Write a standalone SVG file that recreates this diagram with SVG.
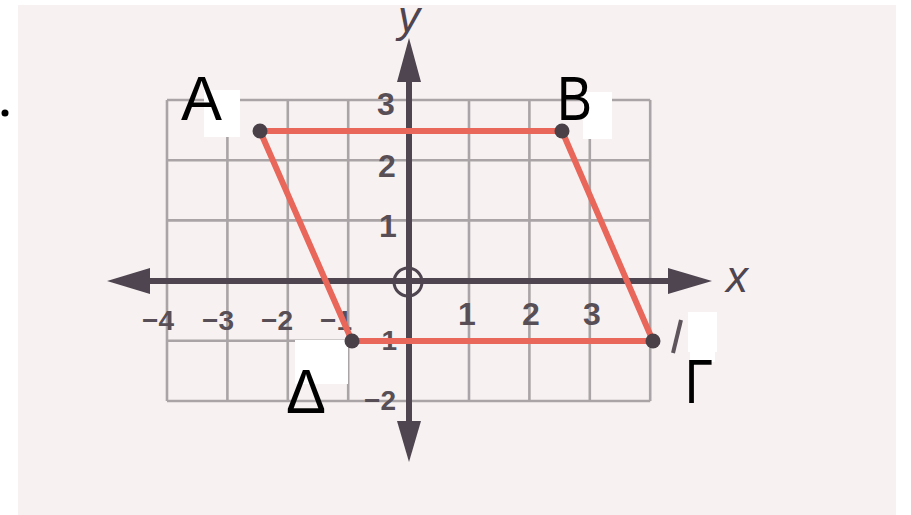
<svg xmlns="http://www.w3.org/2000/svg" width="911" height="515" viewBox="0 0 911 515">
  <defs>
    <style>
      .grid { stroke: #aaa4a6; stroke-width: 2.6; fill: none; }
      .axis { stroke: #4f4550; stroke-width: 6; fill: none; }
      .head { fill: #4f4550; }
      .num { font-family: "Liberation Sans", Arial, sans-serif; font-weight: bold; fill: #574f55; text-anchor: middle; }
      .neg { font-size: 28px; }
      .pos { font-size: 32px; }
      .axl { font-family: "Liberation Sans", Arial, sans-serif; font-style: italic; font-size: 44px; fill: #4f4550; }
      .edge { stroke: #e8665a; stroke-width: 6; fill: none; stroke-linecap: round; }
      .dot { fill: #4a4048; }
      .lbl { font-family: "Liberation Sans", Arial, sans-serif; font-size: 63px; fill: #000; }
      .wbox { fill: #ffffff; }
    </style>
  </defs>

  <rect x="0" y="0" width="911" height="515" fill="#ffffff"/>
  <rect x="18" y="5" width="878" height="510" fill="#f7f2f1"/>

  <!-- y axis label -->
  <text class="axl" x="398" y="32" font-size="34">y</text>

  <circle cx="5" cy="113" r="3.5" fill="#000"/>

  <!-- grid -->
  <g id="grid">
    <path class="grid" d="M167,100 V401 M227.4,100 V401 M287.8,100 V401 M348.2,100 V401 M469,100 V401 M529.4,100 V401 M589.8,100 V401 M650.2,100 V401"/>
    <path class="grid" d="M167,100 H650.2 M167,160.2 H650.2 M167,220.4 H650.2 M167,340.8 H650.2 M167,401 H650.2"/>
  </g>

  <!-- axes -->
  <g id="axes">
    <path class="axis" d="M140,281 H680"/>
    <path class="axis" d="M409,72 V430"/>
    <polygon class="head" points="107,281 150,268 150,294"/>
    <polygon class="head" points="712,281 668,268 668,294"/>
    <polygon class="head" points="409,38 397,82 421,82"/>
    <polygon class="head" points="409,462 397,421 421,421"/>
    <circle cx="408" cy="282" r="14" fill="none" stroke="#4f4550" stroke-width="3"/>
    <text class="axl" x="726" y="292">x</text>
  </g>

  <!-- tick labels -->
  <g id="ticks">
    <text class="num neg" x="158" y="330">−4</text>
    <text class="num neg" x="218" y="330">−3</text>
    <text class="num neg" x="277" y="330">−2</text>
    <text class="num neg" x="336" y="330">−1</text>
    <text class="num pos" x="467" y="325">1</text>
    <text class="num pos" x="531" y="325">2</text>
    <text class="num pos" x="592" y="325">3</text>
    <text class="num pos" x="386" y="115">3</text>
    <text class="num pos" x="387" y="177">2</text>
    <text class="num pos" x="388" y="237">1</text>
    <text class="num neg" x="381" y="350" font-size="30">−1</text>
    <text class="num neg" x="380" y="410" font-size="30">−2</text>
  </g>

  <!-- connectors -->
  <g id="connectors">
    <path class="edge" d="M260,131 H562"/>
    <path class="edge" d="M562,131 L653,341"/>
    <path class="edge" d="M653,341 H352"/>
    <path class="edge" d="M352,341 L260,131"/>
  </g>

  <!-- residue mark near Gamma -->
  <path d="M681,320 L673,353" stroke="#5e545c" stroke-width="4" fill="none"/>

  <!-- nodes -->
  <g id="node-A">
    <rect class="wbox" x="204" y="90" width="36" height="47"/>
    <circle class="dot" cx="260" cy="131" r="7.5"/>
    <text class="lbl" x="181" y="120" textLength="41" lengthAdjust="spacingAndGlyphs">A</text>
  </g>
  <g id="node-B">
    <rect class="wbox" x="583" y="92" width="29" height="47"/>
    <circle class="dot" cx="562" cy="131" r="7.5"/>
    <text class="lbl" x="557" y="120" textLength="35" lengthAdjust="spacingAndGlyphs">B</text>
  </g>
  <g id="node-Gamma">
    <rect class="wbox" x="688" y="312" width="29" height="40"/>
    <rect class="wbox" x="690" y="350" width="25" height="12"/>
    <circle class="dot" cx="653" cy="341" r="7.5"/>
    <text class="lbl" x="685" y="403" textLength="28" lengthAdjust="spacingAndGlyphs">Γ</text>
  </g>
  <g id="node-Delta">
    <rect class="wbox" x="295" y="340" width="53" height="44"/>
    <circle class="dot" cx="352" cy="341" r="7.5"/>
    <text class="lbl" x="286" y="413" textLength="40" lengthAdjust="spacingAndGlyphs">Δ</text>
  </g>
</svg>
